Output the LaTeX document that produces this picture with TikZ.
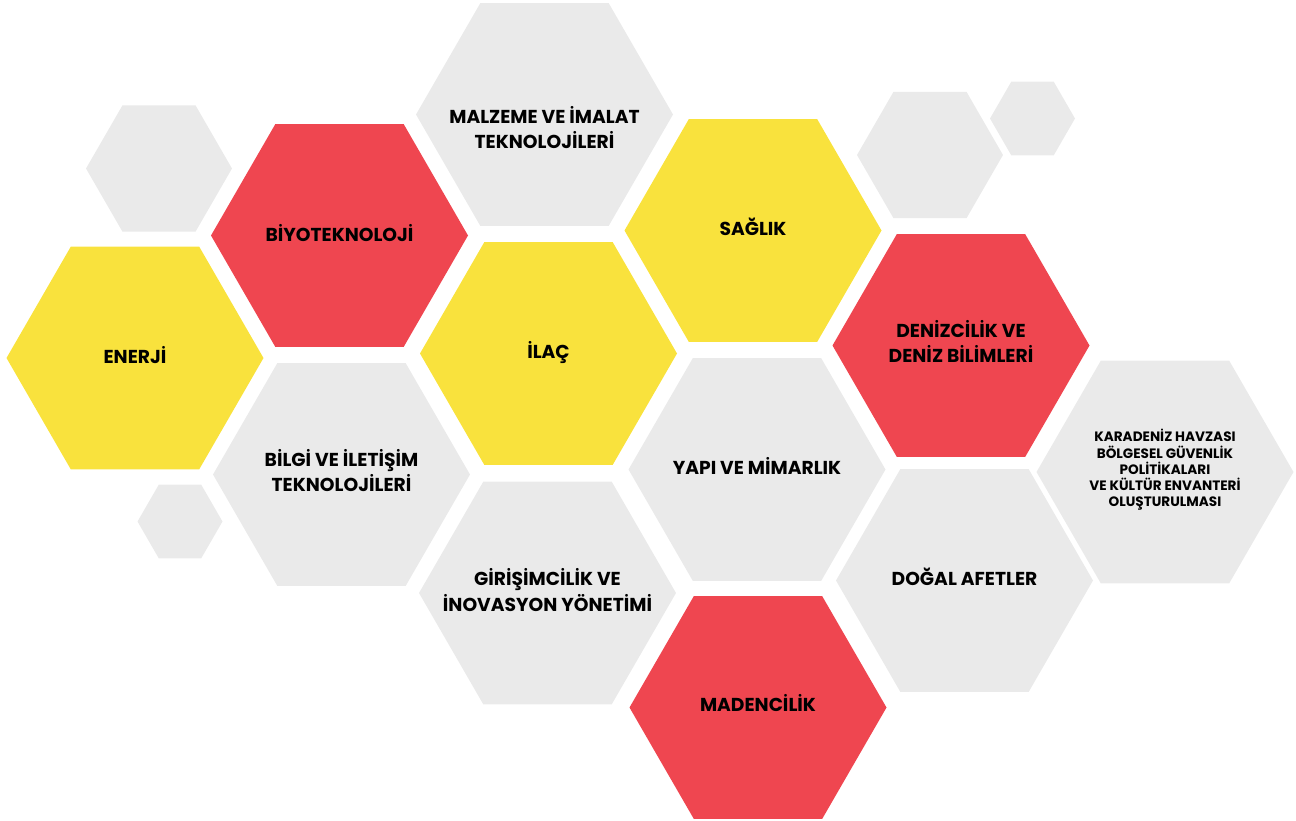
\documentclass[tikz,border=0pt]{standalone}
\usepackage{fontspec}
\setmainfont{Poppins}
\usepackage{tikz}
\usetikzlibrary{shapes.geometric,positioning}
\definecolor{hyellow}{RGB}{249,226,61}
\definecolor{hred}{RGB}{239,70,80}
\definecolor{hgray}{RGB}{234,234,234}
\tikzset{
  hexa/.style={regular polygon, regular polygon sides=6, minimum size=257pt,
    inner sep=0pt, outer sep=0pt, draw=none},
  smallhexa/.style={hexa, minimum size=146pt, fill=hgray},
  tinyhexa/.style={hexa, minimum size=85pt, fill=hgray},
  lbl/.style={align=center, inner sep=0pt, font=\fontsize{18.7}{25.5}\selectfont\bfseries},
  smalllbl/.style={align=center, inner sep=0pt, font=\fontsize{13.6}{16.3}\selectfont\bfseries}
}

\begin{document}
\begin{tikzpicture}[x=1pt, y=-1pt]
\useasboundingbox (0,0) rectangle (1296,820);

% decorative hexagons
\node[smallhexa] (deco1) at (159,168.5) {};
\node[smallhexa] (deco2) at (930,155) {};
\node[tinyhexa] (deco3) at (1032.5,118.5) {};
\node[tinyhexa] (deco4) at (180,521.5) {};

% left column
\node[hexa, fill=hyellow] (enerji) at (135,358) {};
\node[lbl] (t-enerji) at ([yshift=3pt]enerji.center) {ENERJİ};

\node[hexa, fill=hred] (biyo) at (339.5,235.5) {};
\node[lbl] (t-biyo) at ([yshift=2pt]biyo.center) {BİYOTEKNOLOJİ};

\node[hexa, fill=hgray] (bilgi) at (341.5,474.5) {};
\node[lbl] (t-bilgi) at ([yshift=4pt]bilgi.center) {BİLGİ VE İLETİŞİM\\TEKNOLOJİLERİ};

% middle column
\node[hexa, fill=hgray] (malzeme) at (544.5,114.5) {};
\node[lbl] (t-malzeme) at ([yshift=-13pt]malzeme.center) {MALZEME VE İMALAT\\TEKNOLOJİLERİ};

\node[hexa, fill=hyellow] (ilac) at (548.5,353.5) {};
\node[lbl] (t-ilac) at ([yshift=1.5pt]ilac.center) {İLAÇ};

\node[hexa, fill=hgray] (girisim) at (547.5,593) {};
\node[lbl] (t-girisim) at ([yshift=3pt]girisim.center) {GİRİŞİMCİLİK VE\\İNOVASYON YÖNETİMİ};

% right-middle column
\node[hexa, fill=hyellow] (saglik) at (753,230.5) {};
\node[lbl] (t-saglik) at ([yshift=3.5pt]saglik.center) {SAĞLIK};

\node[hexa, fill=hgray] (yapi) at (757,469.5) {};
\node[lbl] (t-yapi) at ([yshift=3.5pt]yapi.center) {YAPI VE MİMARLIK};

\node[hexa, fill=hred] (maden) at (758,707.5) {};
\node[lbl] (t-maden) at ([yshift=4.5pt]maden.center) {MADENCİLİK};

% right column
\node[hexa, fill=hred] (deniz) at (961,345.5) {};
\node[lbl] (t-deniz) at ([yshift=4pt]deniz.center) {DENİZCİLİK VE\\DENİZ BİLİMLERİ};

\node[hexa, fill=hgray] (afet) at (964.5,580.5) {};
\node[lbl] (t-afet) at ([yshift=3.5pt]afet.center) {DOĞAL AFETLER};

\node[hexa, fill=hgray] (karadeniz) at (1165,472) {};
\node[smalllbl] (t-karadeniz) at ([yshift=2pt]karadeniz.center) {KARADENİZ HAVZASI\\BÖLGESEL GÜVENLİK\\POLİTİKALARI\\VE KÜLTÜR ENVANTERİ\\OLUŞTURULMASI};
\end{tikzpicture}
\end{document}
